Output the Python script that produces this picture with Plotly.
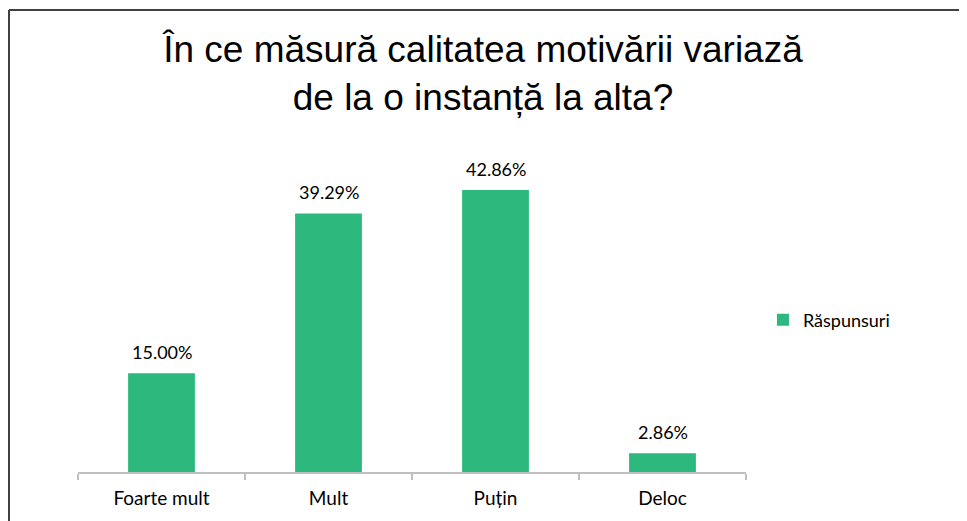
import plotly.graph_objects as go

categories = ["Foarte mult", "Mult", "Puțin", "Deloc"]
values = [15.00, 39.29, 42.86, 2.86]
series_name = "Răspunsuri"
title_lines = ["În ce măsură calitatea motivării variază", "de la o instanță la alta?"]

BAR = "#2db87e"
LABEL_FONT = "Lato, Open Sans, sans-serif"

W, H = 959, 513

fig = go.Figure()
fig.add_trace(go.Bar(
    x=categories, y=values, name=series_name,
    marker=dict(color=BAR, line=dict(width=0)),
    width=0.4,
    showlegend=True,
))

for c, v in zip(categories, values):
    fig.add_annotation(
        x=c, y=v, xref="x", yref="y",
        text=f"{v:.2f}%", showarrow=False,
        yanchor="bottom", yshift=8,
        font=dict(family=LABEL_FONT, size=18, color="#000000"),
    )

# outer frame (top and left edges of the original slide frame)
shapes = [
    dict(type="line", xref="paper", yref="paper", x0=-0.1033, x1=1.4, y0=1.404, y1=1.404,
         line=dict(color="#404040", width=2)),
    dict(type="line", xref="paper", yref="paper", x0=-0.1033, x1=-0.1033, y0=1.404, y1=-0.2,
         line=dict(color="#404040", width=2)),
]

fig.update_layout(
    width=W, height=H,
    margin=dict(l=70, r=W - 738, t=135, b=H - 464),
    paper_bgcolor="white", plot_bgcolor="white",
    shapes=shapes,
    title=dict(
        text="<br>".join(title_lines),
        x=475 / W, xref="container", xanchor="center",
        y=1 - 54 / H, yref="container", yanchor="middle",
        font=dict(family="Liberation Sans, Arial, sans-serif", size=37, color="#000000"),
    ),
    legend=dict(
        x=1.0254, xanchor="left", y=0.462, yanchor="middle",
        font=dict(family=LABEL_FONT, size=18, color="#000000"),
        bgcolor="rgba(0,0,0,0)",
    ),
    xaxis=dict(
        showline=True, linecolor="#bfbfbf", linewidth=1.5,
        ticks="outside", tickson="boundaries", ticklen=6, tickcolor="#bfbfbf", tickwidth=1.5,
        tickfont=dict(family=LABEL_FONT, size=19, color="#000000"),
        ticklabelstandoff=8,
        showgrid=False,
    ),
    yaxis=dict(
        range=[0, 50], visible=False, showgrid=False, zeroline=False,
    ),
    bargap=0.6,
)

fig.write_html("out.html")
